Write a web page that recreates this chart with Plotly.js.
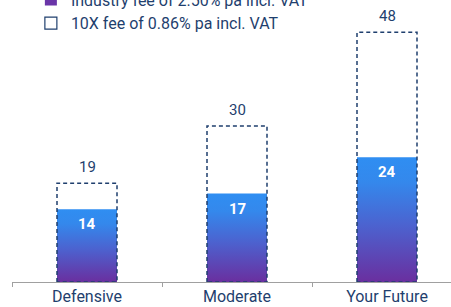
<!DOCTYPE html>
<html><head><meta charset="utf-8">
<script src="https://cdn.plot.ly/plotly-3.0.1.min.js"></script>
<style>html,body{margin:0;padding:0;background:#fff}#chart{width:451px;height:307px}</style>
</head><body><div id="chart"></div>
<script>
var categories = ['Defensive', 'Moderate', 'Your Future'];
var industryFee = [14, 17, 24];
var tenXFee = [19, 30, 48];
var seriesNames = ['Industry fee of 2.50% pa incl. VAT', '10X fee of 0.86% pa incl. VAT'];

var navy = '#1f3f6e';
var half = 0.2;
var traces = [];

// gradient bars
industryFee.forEach(function(v, i) {
  traces.push({
    type: 'scatter', mode: 'lines', x: [i - half, i - half, i + half, i + half, i - half],
    y: [0, v, v, 0, 0], fill: 'toself', line: {width: 0},
    fillgradient: {type: 'vertical', start: 0, stop: v,
      colorscale: [[0, '#6a2f9f'], [0.45, '#4c62cf'], [0.8, '#3488ec'], [1, '#2f8ef2']]},
    showlegend: false, hoverinfo: 'skip'
  });
});
// dashed outlines
var ox = [], oy = [];
tenXFee.forEach(function(v, i) {
  ox.push(i - half, i - half, i + half, i + half, i - half, null);
  oy.push(0, v, v, 0, 0, null);
});
traces.push({type: 'scatter', mode: 'lines', x: ox, y: oy,
  line: {color: navy, width: 1.5, dash: '4px,3px'}, showlegend: false, hoverinfo: 'skip'});

// legend entries
traces.push({type: 'bar', x: [null], y: [null], name: seriesNames[0], marker: {color: '#6a35a8'}});
traces.push({type: 'bar', x: [null], y: [null], name: seriesNames[1],
  marker: {color: 'rgba(255,255,255,0)', line: {color: navy, width: 1.2}}});

var annotations = [];
tenXFee.forEach(function(v, i) {
  annotations.push({x: i, y: v, xref: 'x', yref: 'y', text: String(v), showarrow: false,
    yshift: 16, font: {family: 'Roboto', size: 15, color: navy}});
});
industryFee.forEach(function(v, i) {
  annotations.push({x: i, y: v, xref: 'x', yref: 'y', text: '<b>' + v + '</b>', showarrow: false,
    yshift: -15, font: {family: 'Roboto', size: 15, color: '#ffffff'}});
});

var layout = {
  width: 451, height: 307,
  margin: {l: 12, r: 0, t: 0, b: 25, autoexpand: false},
  paper_bgcolor: '#fff', plot_bgcolor: '#fff',
  font: {family: 'Roboto', size: 14, color: navy},
  showlegend: true,
  legend: {x: 0.043, xanchor: 'left', y: 1.062, yanchor: 'top', bgcolor: 'rgba(0,0,0,0)',
    font: {family: 'Roboto', size: 16, color: navy}, tracegroupgap: 0, traceorder: 'normal'},
  xaxis: {range: [-0.5, 2.4267], tickmode: 'array', tickvals: [0, 1, 2], ticktext: categories,
    ticks: '', showgrid: false, zeroline: false, showline: true, linecolor: '#a0a0a0', linewidth: 1,
    tickfont: {family: 'Roboto', size: 16, color: navy}, automargin: false, fixedrange: true,
    minor: {ticks: 'outside', tickmode: 'array', tickvals: [-0.5, 0.5, 1.5], ticklen: 4,
      tickcolor: '#a0a0a0', tickwidth: 1, showgrid: false}},
  yaxis: {range: [0, 54.2], visible: false, showgrid: false, zeroline: false, fixedrange: true},
  annotations: annotations
};

Plotly.newPlot('chart', traces, layout, {displayModeBar: false, staticPlot: true});
</script></body></html>
